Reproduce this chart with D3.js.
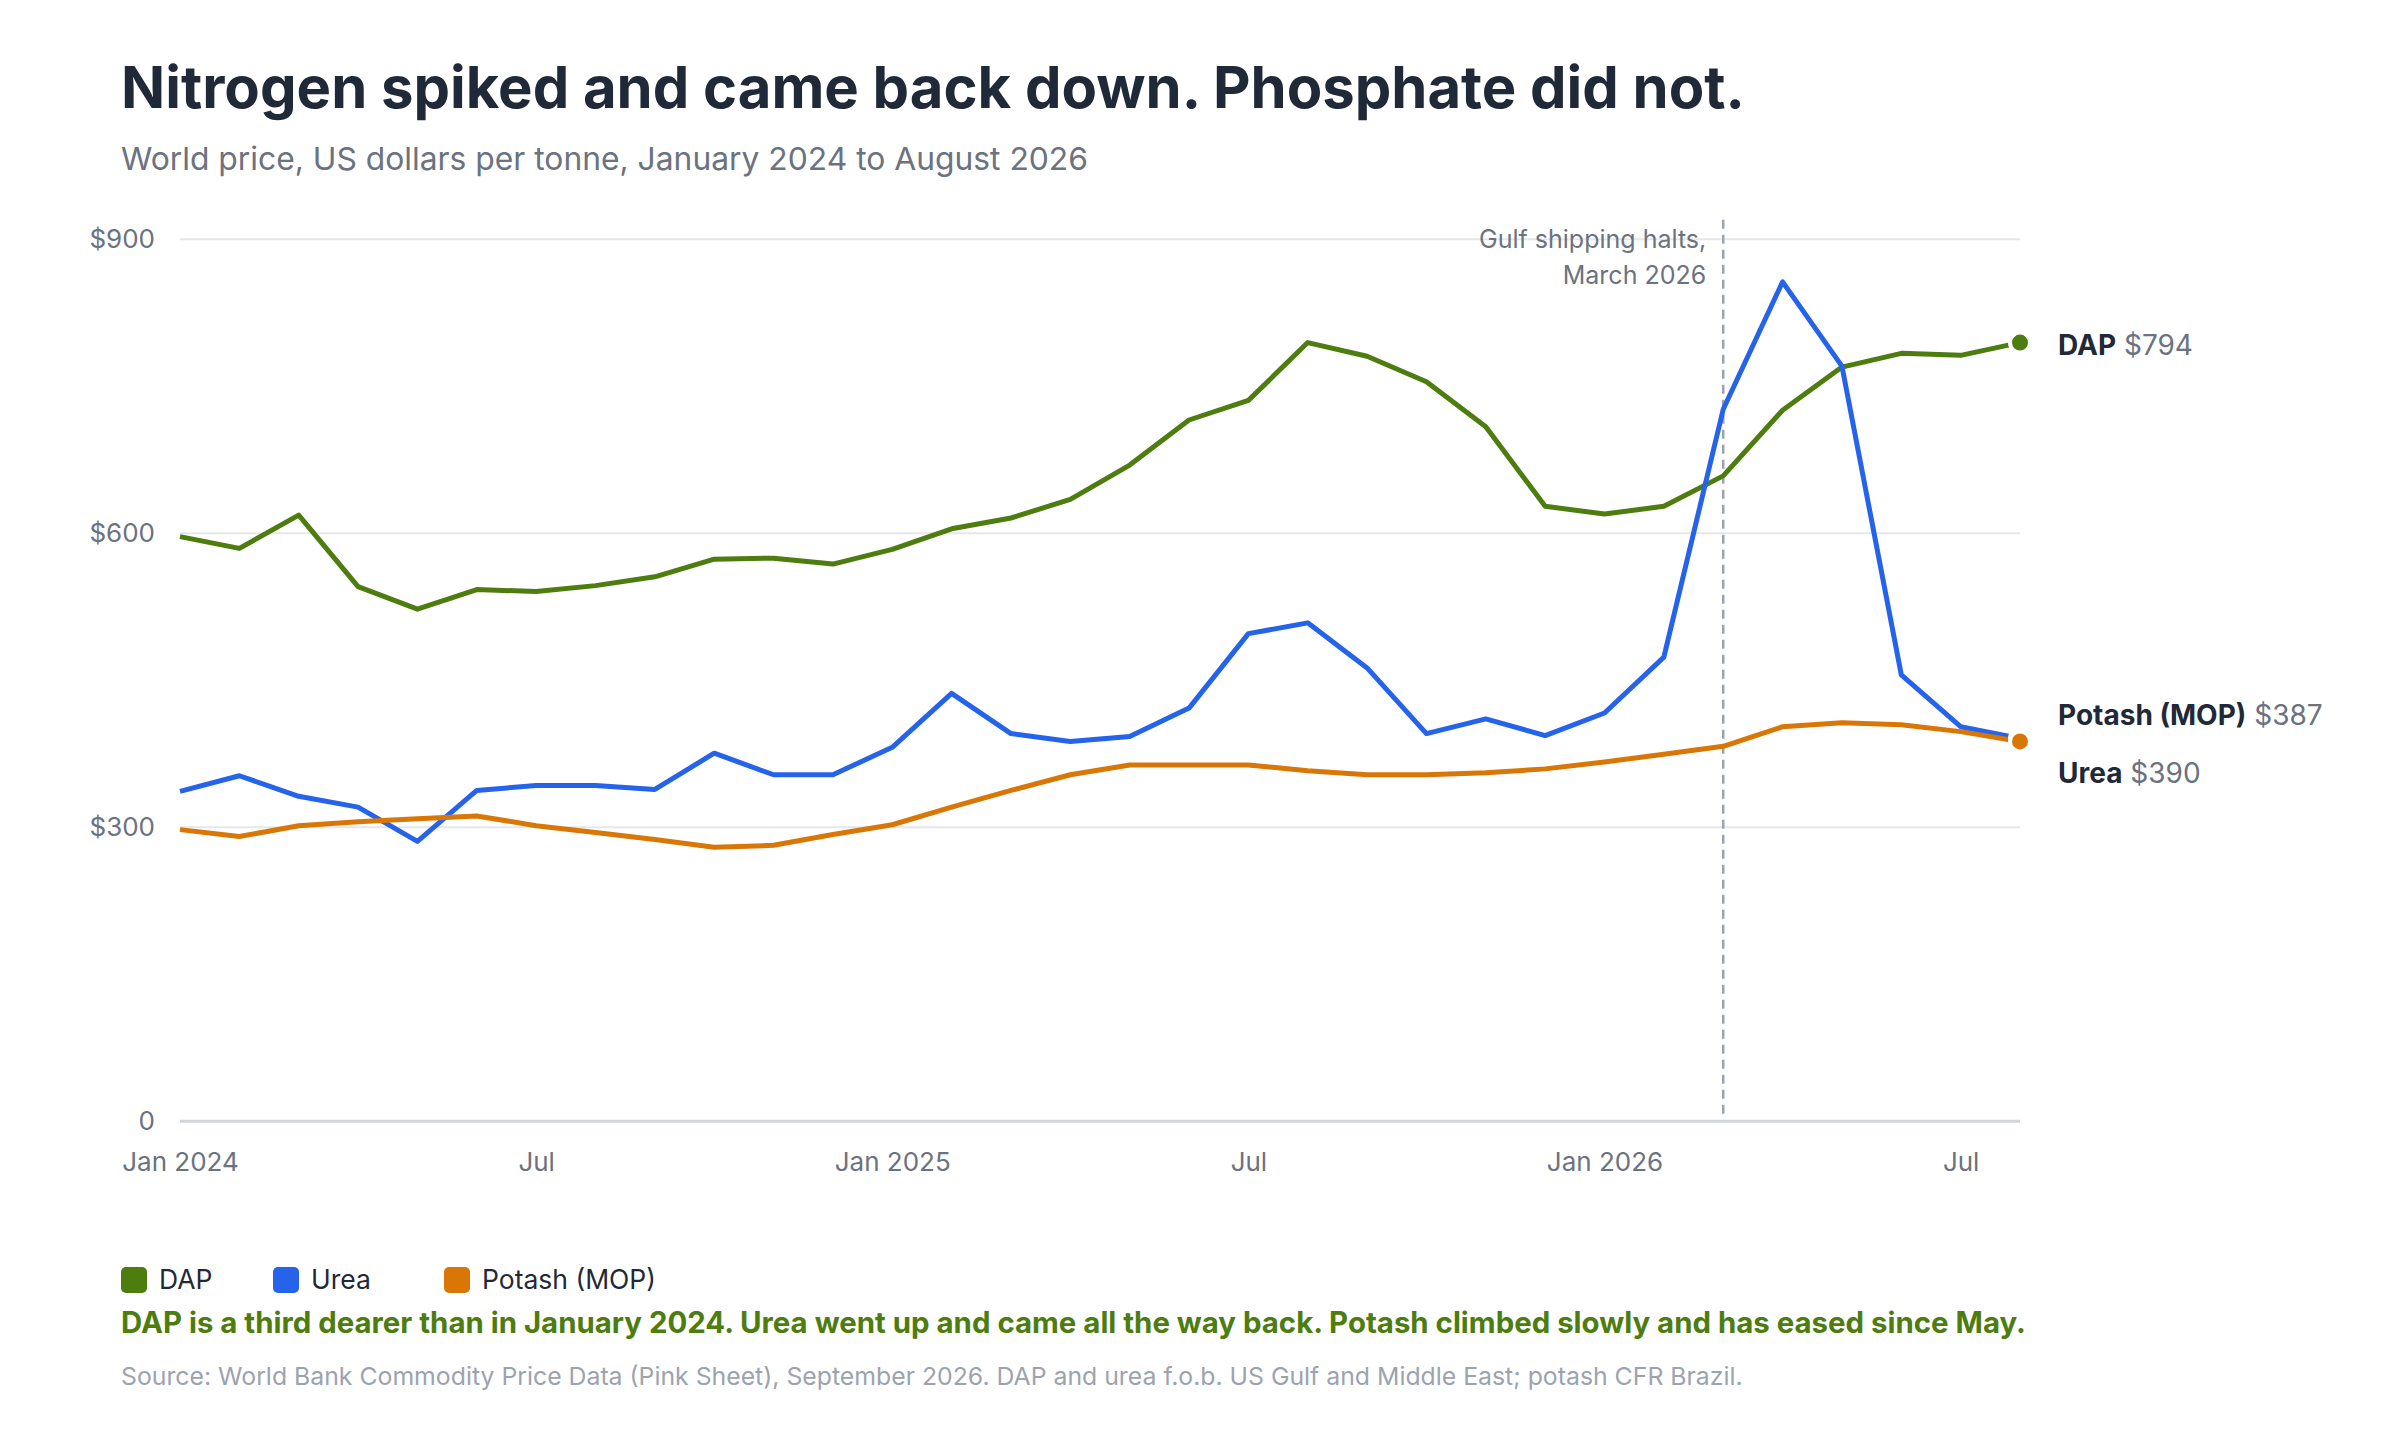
<!DOCTYPE html>
<html lang="en">
<head>
<meta charset="UTF-8">
<title>Nitrogen spiked and came back down</title>
<script src="https://cdn.jsdelivr.net/npm/d3@7"></script>
<style>
  body { margin: 0; background: #fff; }
  svg { display: block; font-family: Inter, "Noto Sans", sans-serif; }
</style>
</head>
<body>
<div id="chart"></div>
<script>
// monthly prices, Jan 2024 to Aug 2026 (US$ per tonne)
var months = ["2024-01","2024-02","2024-03","2024-04","2024-05","2024-06","2024-07","2024-08",
  "2024-09","2024-10","2024-11","2024-12","2025-01","2025-02","2025-03","2025-04","2025-05",
  "2025-06","2025-07","2025-08","2025-09","2025-10","2025-11","2025-12","2026-01","2026-02",
  "2026-03","2026-04","2026-05","2026-06","2026-07","2026-08"];
var dap = [596,584,618,545,522,542,540,546,555,573,574,568,583,604,615,634,669,715,735,794,
  780,754,708,627,619,627,658,725,769,783,781,794];
var urea = [336,352,331,320,285,337,342,342,338,375,353,353,381,436,395,387,392,421,497,508,
  462,395,410,393,416,473,726,856,770,455,402,390];
var potash = [297,290,301,305,308,311,301,294,287,279,281,292,302,320,337,353,363,363,363,357,
  353,353,355,359,366,374,382,402,406,404,397,387];

var seriesNames = ["DAP", "Urea", "Potash (MOP)"];
var seriesColors = ["#4d7c0f", "#2563eb", "#d97706"];
var labelOrder = ["DAP", "Potash (MOP)", "Urea"];   // top to bottom at the right edge

var yTicks = [0, 300, 600, 900];
var yTickLabels = ["0", "$300", "$600", "$900"];
var xTicks = ["2024-01","2024-07","2025-01","2025-07","2026-01","2026-07"];
var xTickLabels = ["Jan 2024", "Jul", "Jan 2025", "Jul", "Jan 2026", "Jul"];

var eventMonth = "2026-03";
var eventLines = ["Gulf shipping halts,", "March 2026"];

var title = "Nitrogen spiked and came back down. Phosphate did not.";
var subtitle = "World price, US dollars per tonne, January 2024 to August 2026";
var story = "DAP is a third dearer than in January 2024. Urea went up and came all the way back. Potash climbed slowly and has eased since May.";
var source = "Source: World Bank Commodity Price Data (Pink Sheet), September 2026. DAP and urea f.o.b. US Gulf and Middle East; potash CFR Brazil.";

var W = 2400, H = 1440;
var plot = {left: 180, right: 2020, top: 238.7, bottom: 1120.7};

var svg = d3.select("#chart").append("svg")
  .attr("width", W)
  .attr("height", H);

svg.append("rect").attr("width", W).attr("height", H).attr("fill", "#fff");

var x = d3.scalePoint().domain(months).range([plot.left, plot.right]);
var y = d3.scaleLinear().domain([0, 900]).range([plot.bottom, plot.top]);

// headings
svg.append("text")
  .attr("x", 121).attr("y", 108)
  .attr("font-size", 58).attr("font-weight", 700)
  .attr("fill", "#1f2937")
  .text(title);
svg.append("text")
  .attr("x", 121).attr("y", 170)
  .attr("font-size", 31.8)
  .attr("fill", "#6b7280")
  .text(subtitle);

// y axis with gridlines
var yAxis = svg.append("g")
  .attr("transform", "translate(" + plot.left + ",0)")
  .call(d3.axisLeft(y)
    .tickValues(yTicks)
    .tickSize(-(plot.right - plot.left))
    .tickPadding(25)
    .tickFormat(function(d, i) { return yTickLabels[i]; }));
yAxis.select(".domain").remove();
yAxis.selectAll(".tick line")
  .attr("stroke", function(d) { return d === 0 ? "#d1d5db" : "#e5e7eb"; })
  .attr("stroke-width", function(d) { return d === 0 ? 3 : 2; });
yAxis.selectAll(".tick text")
  .attr("font-size", 26)
  .attr("font-family", "Inter, sans-serif")
  .attr("fill", "#6b7280");

// x axis labels only
var xAxis = svg.append("g")
  .attr("transform", "translate(0," + plot.bottom + ")")
  .call(d3.axisBottom(x)
    .tickValues(xTicks)
    .tickSize(0)
    .tickPadding(32)
    .tickFormat(function(d, i) { return xTickLabels[i]; }));
xAxis.select(".domain").remove();
xAxis.selectAll(".tick text")
  .attr("font-size", 26)
  .attr("font-family", "Inter, sans-serif")
  .attr("fill", "#6b7280");

// event marker
svg.append("line")
  .attr("x1", x(eventMonth)).attr("x2", x(eventMonth))
  .attr("y1", plot.top - 19).attr("y2", plot.bottom - 3)
  .attr("stroke", "#9ca3af")
  .attr("stroke-width", 2.5)
  .attr("stroke-dasharray", "9,6");
svg.append("g").selectAll("text")
  .data(eventLines)
  .enter().append("text")
    .attr("x", x(eventMonth) - 17)
    .attr("y", function(d, i) { return 248 + i * 36; })
    .attr("text-anchor", "end")
    .attr("font-size", 25)
    .attr("fill", "#6b7280")
    .text(function(d) { return d; });

// lines
var series = [dap, urea, potash].map(function(vals, i) {
  return {name: seriesNames[i], color: seriesColors[i], values: vals};
});
var line = d3.line()
  .x(function(d, i) { return x(months[i]); })
  .y(function(d) { return y(d); });

svg.append("g").selectAll("path")
  .data(series)
  .enter().append("path")
    .attr("d", function(s) { return line(s.values); })
    .attr("fill", "none")
    .attr("stroke", function(s) { return s.color; })
    .attr("stroke-width", 5)
    .attr("stroke-linejoin", "round");

// end dots with a white ring
var last = months.length - 1;
svg.append("g").selectAll("circle")
  .data(series)
  .enter().append("circle")
    .attr("cx", x(months[last]))
    .attr("cy", function(s) { return y(s.values[last]); })
    .attr("r", 10)
    .attr("fill", function(s) { return s.color; })
    .attr("stroke", "#fff")
    .attr("stroke-width", 4);

// end labels, pushed apart where they collide
var labels = labelOrder.map(function(name) {
  var s = series.filter(function(d) { return d.name === name; })[0];
  return {name: name, value: s.values[last], y: y(s.values[last])};
});
var gap = 58;
for (var k = 0; k < 20; k++) {
  for (var j = 0; j < labels.length - 1; j++) {
    var a = labels[j], b = labels[j + 1];
    if (b.y - a.y < gap) {
      var mid = (a.y + b.y) / 2 + 1.5;
      a.y = mid - gap / 2;
      b.y = mid + gap / 2;
    }
  }
}
var endLabel = svg.append("g").selectAll("text")
  .data(labels)
  .enter().append("text")
    .attr("x", plot.right + 38)
    .attr("y", function(d) { return d.y; })
    .attr("dy", "0.43em")
    .attr("font-size", 28);
endLabel.append("tspan")
  .attr("font-weight", 700)
  .attr("fill", "#1f2937")
  .text(function(d) { return d.name; });
endLabel.append("tspan")
  .attr("fill", "#6b7280")
  .text(function(d) { return " $" + d.value; });

// legend
var legendX = [121, 273, 444];
var legend = svg.append("g").selectAll("g")
  .data(series)
  .enter().append("g")
    .attr("transform", function(d, i) { return "translate(" + legendX[i] + ",1267)"; });
legend.append("rect")
  .attr("width", 26).attr("height", 26).attr("rx", 5)
  .attr("fill", function(d) { return d.color; });
legend.append("text")
  .attr("x", 38).attr("y", 22)
  .attr("font-size", 26.5)
  .attr("fill", "#1f2937")
  .text(function(d) { return d.name; });

// takeaway and source
svg.append("text")
  .attr("x", 121).attr("y", 1333)
  .attr("font-size", 29.4).attr("font-weight", 700)
  .attr("fill", "#4d7c0f")
  .text(story);
svg.append("text")
  .attr("x", 121).attr("y", 1385)
  .attr("font-size", 24.8)
  .attr("fill", "#9ca3af")
  .text(source);
</script>
</body>
</html>
